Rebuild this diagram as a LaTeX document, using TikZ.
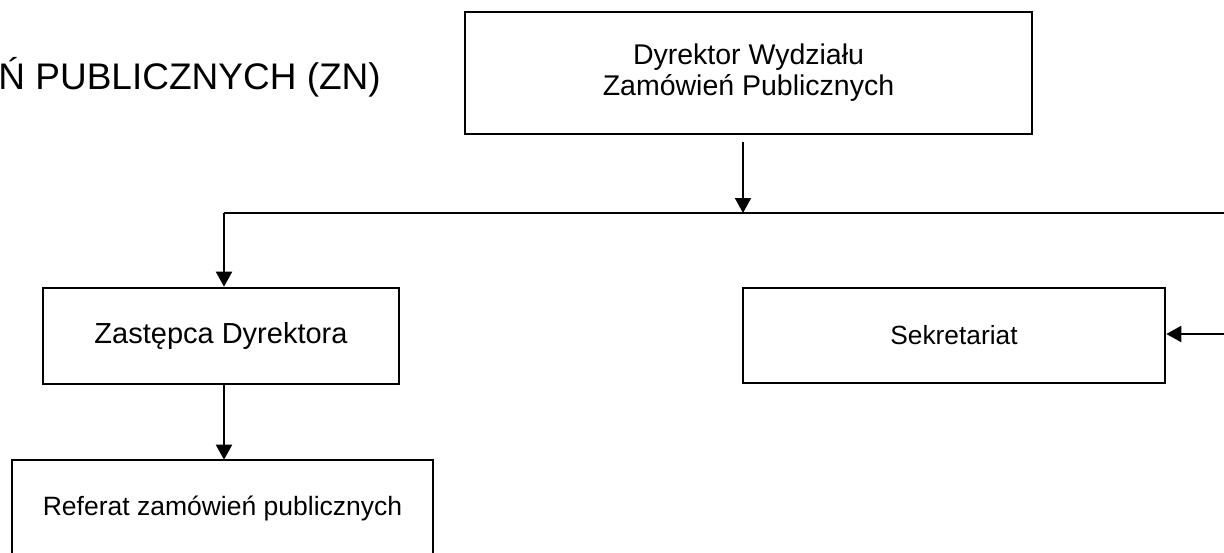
\documentclass[tikz,border=0pt]{standalone}
\usepackage{fontspec}
\setmainfont{Liberation Sans}
\usetikzlibrary{arrows.meta}
\tikzset{
  box/.style={draw=black, line width=2.6pt, fill=white, inner sep=0pt, align=center},
  conn/.style={draw=black, line width=2pt},
  bus/.style={draw=black, line width=1.5pt},
  arr/.style={conn, -{Triangle[length=15pt,width=16pt]}},
}
\begin{document}
\begin{tikzpicture}[x=1pt,y=-1pt]
\clip (0,0) rectangle (1224,552);
\fill[white] (0,0) rectangle (1224,552);
% title (partly cut off at the left)
\node[anchor=base east, inner sep=0pt, font=\fontsize{37}{40}\selectfont] (title) at (381,89) {Ń PUBLICZNYCH (ZN)};
% boxes
\node[box, minimum width=567pt, minimum height=122pt, font=\fontsize{28.5}{31}\selectfont] (dir) at (748.5,73) {Dyrektor Wydziału\\Zamówień Publicznych};
\node[box, minimum width=356pt, minimum height=96pt, font=\fontsize{29}{32}\selectfont] (zast) at (221,336) {Zastępca Dyrektora};
\node[box, minimum width=422pt, minimum height=95pt, font=\fontsize{26.3}{30}\selectfont] (sekr) at (954,335.5) {Sekretariat};
\node[box, minimum width=421pt, minimum height=96pt, font=\fontsize{26.5}{30}\selectfont] (ref) at (222.5,508) {Referat zamówień publicznych};
% bus coordinates
\coordinate (busL) at (224,213);
\coordinate (busR) at (1226,213);
\coordinate (busD) at (743,213);
\coordinate (sekin) at (1226,334);
% connectors
\draw[bus] (busL) -- (busR);
\draw[arr] ([yshift=-7pt]dir.south -| busD) -- (busD);
\draw[arr] (busL) -- (busL |- zast.north);
\draw[arr] (zast.south -| busL) -- ([yshift=-1pt]ref.north -| busL);
\draw[arr] (sekin) -- (sekr.east |- sekin);
\end{tikzpicture}
\end{document}
